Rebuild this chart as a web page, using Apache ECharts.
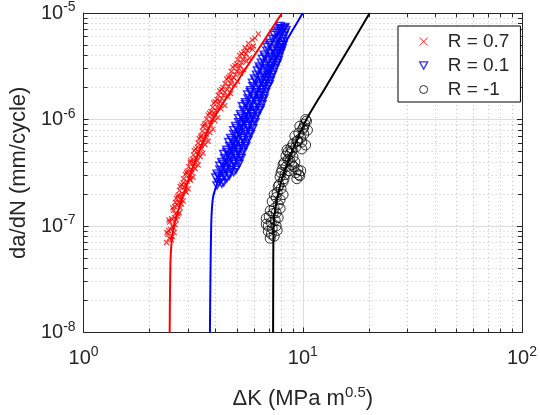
<!DOCTYPE html>
<html>
<head>
<meta charset="utf-8">
<script src="https://cdn.jsdelivr.net/npm/echarts@6/dist/echarts.min.js"></script>
<style>html,body{margin:0;padding:0;background:#fff}#c{width:540px;height:415px}</style>
</head>
<body>
<div id="c"></div>
<script>
// ---- data: [ΔK (MPa m^0.5), da/dN (mm/cycle)] ----
const seriesNames = ['R = 0.7', 'R = 0.1', 'R = -1'];

const pointsR07 = [
[2.39,7.0e-8],[2.52,7.4e-8],[2.46,7.67e-8],[2.42,8.4e-8],[2.54,8.0e-8],[2.40,8.7e-8],[2.59,8.7e-8],
[2.44,9.1e-8],[2.57,9.6e-8],[2.49,9.3e-8],[2.55,1.0e-7],[2.47,1.09e-7],[2.62,1.03e-7],[2.45,1.14e-7],[2.65,1.14e-7],
[2.52,1.17e-7],[2.68,1.24e-7],[2.60,1.20e-7],[2.62,1.3e-7],[2.70,1.3e-7],[2.57,1.40e-7],[2.74,1.33e-7],[2.55,1.48e-7],[2.76,1.48e-7],
[2.60,1.52e-7],[2.79,1.61e-7],[2.68,1.56e-7],[2.72,1.67e-7],[2.62,1.67e-7],[2.65,1.82e-7],[2.85,1.72e-7],[2.76,1.79e-7],
[2.80,1.90e-7],[2.68,1.90e-7],[2.71,1.96e-7],[2.94,2.07e-7],[2.82,2.01e-7],[2.90,2.16e-7],[2.74,2.16e-7],
[2.76,2.35e-7],[3.00,2.23e-7],[2.88,2.31e-7],[2.93,2.45e-7],[2.80,2.45e-7],
[2.85,2.54e-7],[3.07,2.69e-7],[2.97,2.61e-7],[3.05,2.78e-7],[2.86,2.78e-7],[2.91,3.05e-7],[3.16,2.88e-7],[3.03,2.98e-7],
[3.12,3.16e-7],[2.95,3.16e-7],[2.97,3.28e-7],[3.23,3.47e-7],[3.10,3.37e-7],[3.17,3.60e-7],[3.02,3.60e-7],
[3.07,3.95e-7],[3.33,3.74e-7],[3.20,3.86e-7],[3.30,4.09e-7],[3.08,4.09e-7],
[3.13,4.25e-7],[3.40,4.49e-7],[3.26,4.36e-7],[3.35,4.66e-7],[3.17,4.66e-7],[3.20,5.10e-7],[3.51,4.83e-7],[3.33,5.00e-7],
[3.45,5.30e-7],[3.25,5.30e-7],[3.30,5.50e-7],[3.58,5.82e-7],[3.44,5.65e-7],[3.50,6.02e-7],[3.33,6.02e-7],
[3.37,6.60e-7],[3.70,6.25e-7],[3.54,6.45e-7],[3.62,6.85e-7],[3.42,6.85e-7],
[3.44,7.10e-7],[3.77,7.52e-7],[3.62,7.30e-7],[3.66,7.79e-7],[3.48,7.79e-7],[3.51,8.55e-7],[3.89,8.08e-7],[3.70,8.35e-7],
[3.80,8.86e-7],[3.55,8.86e-7],[3.58,9.18e-7],[3.97,9.72e-7],[3.77,9.44e-7],[3.85,1.007e-6],[3.64,1.007e-6],
[3.70,1.10e-6],[4.10,1.04e-6],[3.89,1.08e-6],[3.95,1.146e-6],[3.75,1.146e-6],
[3.81,1.19e-6],[4.23,1.26e-6],[4.01,1.22e-6],[4.07,1.30e-6],[3.88,1.30e-6],[3.93,1.43e-6],[4.41,1.35e-6],[4.14,1.40e-6],
[4.20,1.48e-6],[3.98,1.48e-6],[4.06,1.54e-6],[4.55,1.63e-6],[4.27,1.58e-6],[4.35,1.69e-6],[4.12,1.69e-6],
[4.18,1.85e-6],[4.69,1.75e-6],[4.41,1.81e-6],[4.52,1.92e-6],[4.26,1.92e-6],
[4.32,2.00e-6],[4.89,2.11e-6],[4.59,2.05e-6],[4.68,2.18e-6],[4.42,2.18e-6],[4.50,2.40e-6],[5.04,2.27e-6],[4.74,2.35e-6],
[4.84,2.48e-6],[4.58,2.48e-6],[4.64,2.57e-6],[5.20,2.72e-6],[4.94,2.64e-6],[5.00,2.82e-6],[4.72,2.82e-6],
[4.79,3.10e-6],[5.37,2.93e-6],[5.10,3.03e-6],[5.18,3.21e-6],[4.90,3.21e-6],
[4.99,3.33e-6],[5.54,3.52e-6],[5.26,3.42e-6],[5.32,3.65e-6],[5.05,3.65e-6],[5.15,4.00e-6],[5.71,3.79e-6],[5.42,3.90e-6],
[5.50,4.15e-6],[5.25,4.15e-6],[5.37,4.31e-6],[5.89,4.56e-6],[5.60,4.43e-6],[5.70,4.72e-6],[5.45,4.72e-6],
[5.65,5.19e-6],[5.95,4.90e-6],[5.89,5.60e-6],[6.05,5.8e-6],[6.27,6.37e-6]
];

const pointsR01 = [
[4.06,2.40e-7],[4.27,2.50e-7],[4.12,2.56e-7],[4.36,2.56e-7],
[4.01,2.85e-7],[4.23,2.72e-7],[4.50,2.80e-7],[4.12,2.96e-7],[4.38,2.96e-7],[4.62,2.96e-7],
[4.06,3.10e-7],[4.32,3.24e-7],[4.59,3.08e-7],[4.84,3.20e-7],[4.19,3.37e-7],[4.45,3.37e-7],[4.71,3.37e-7],[4.95,3.37e-7],
[4.18,3.68e-7],[4.45,3.52e-7],[4.74,3.66e-7],[4.99,3.55e-7],[4.31,3.84e-7],[4.59,3.84e-7],[4.87,3.84e-7],[5.12,3.84e-7],
[4.27,4.00e-7],[4.55,4.18e-7],[4.84,4.02e-7],[5.10,4.15e-7],[4.40,4.36e-7],[4.69,4.36e-7],[4.97,4.36e-7],[5.24,4.36e-7],
[4.36,4.75e-7],[4.64,4.56e-7],[4.94,4.72e-7],[5.20,4.60e-7],[4.50,4.96e-7],[4.79,4.96e-7],[5.07,4.96e-7],[5.33,4.96e-7],
[4.50,5.20e-7],[4.79,5.42e-7],[5.10,5.22e-7],[5.37,5.38e-7],[4.64,5.65e-7],[4.94,5.65e-7],[5.24,5.65e-7],[5.50,5.65e-7],
[4.59,6.15e-7],[4.89,5.90e-7],[5.20,6.10e-7],[5.48,5.95e-7],[4.74,6.42e-7],[5.04,6.42e-7],[5.36,6.42e-7],[5.62,6.42e-7],
[4.69,6.72e-7],[4.99,7.00e-7],[5.31,6.75e-7],[5.65,6.95e-7],[4.84,7.30e-7],[5.15,7.30e-7],[5.48,7.30e-7],[5.78,7.30e-7],
[4.84,7.95e-7],[5.15,7.62e-7],[5.48,7.90e-7],[5.77,7.70e-7],[4.99,8.30e-7],[5.31,8.30e-7],[5.63,8.30e-7],[5.92,8.30e-7],
[4.94,8.68e-7],[5.26,9.05e-7],[5.60,8.75e-7],[5.89,8.98e-7],[5.10,9.44e-7],[5.42,9.44e-7],[5.74,9.44e-7],[6.05,9.44e-7],
[5.10,1.03e-6],[5.42,9.85e-7],[5.77,1.02e-6],[6.02,9.95e-7],[5.26,1.07e-6],[5.60,1.07e-6],[5.89,1.07e-6],[6.15,1.07e-6],
[5.20,1.12e-6],[5.54,1.17e-6],[5.89,1.13e-6],[6.21,1.16e-6],[5.36,1.22e-6],[5.71,1.22e-6],[6.05,1.22e-6],[6.36,1.22e-6],
[5.31,1.33e-6],[5.65,1.27e-6],[6.02,1.32e-6],[6.40,1.28e-6],[5.48,1.39e-6],[5.83,1.39e-6],[6.21,1.39e-6],[6.52,1.39e-6],
[5.48,1.45e-6],[5.83,1.51e-6],[6.21,1.46e-6],[6.54,1.50e-6],[5.63,1.58e-6],[6.00,1.58e-6],[6.36,1.58e-6],[6.65,1.58e-6],
[5.60,1.72e-6],[5.95,1.65e-6],[6.34,1.71e-6],[6.67,1.67e-6],[5.77,1.80e-6],[6.14,1.80e-6],[6.48,1.80e-6],[6.76,1.80e-6],
[5.77,1.88e-6],[6.14,1.96e-6],[6.54,1.90e-6],[6.81,1.95e-6],[5.92,2.05e-6],[6.30,2.05e-6],[6.66,2.05e-6],[6.95,2.05e-6],
[5.89,2.22e-6],[6.27,2.13e-6],[6.67,2.20e-6],[7.03,2.15e-6],[6.08,2.33e-6],[6.47,2.33e-6],[6.88,2.33e-6],[7.12,2.33e-6],
[6.02,2.43e-6],[6.40,2.53e-6],[6.81,2.45e-6],[7.18,2.51e-6],[6.15,2.64e-6],[6.55,2.64e-6],[6.95,2.64e-6],[7.27,2.64e-6],
[6.21,2.88e-6],[6.60,2.76e-6],[7.03,2.86e-6],[7.33,2.78e-6],[6.38,3.01e-6],[6.80,3.01e-6],[7.15,3.01e-6],[7.46,3.01e-6],
[6.34,3.15e-6],[6.74,3.28e-6],[7.18,3.17e-6],[7.56,3.25e-6],[6.47,3.42e-6],[6.88,3.42e-6],[7.32,3.42e-6],[7.66,3.42e-6],
[6.54,3.72e-6],[6.96,3.58e-6],[7.40,3.70e-6],[7.72,3.60e-6],[6.72,3.89e-6],[7.16,3.89e-6],[7.52,3.89e-6],[7.80,3.89e-6],
[6.67,4.07e-6],[7.10,4.24e-6],[7.56,4.10e-6],[7.88,4.20e-6],[6.85,4.43e-6],[7.30,4.43e-6],[7.70,4.43e-6],[7.98,4.43e-6],
[6.88,4.82e-6],[7.33,4.62e-6],[7.80,4.78e-6],[8.04,4.66e-6],[7.05,5.04e-6],[7.48,5.04e-6],[7.90,5.04e-6],[8.14,5.04e-6],
[7.10,5.26e-6],[7.56,5.48e-6],[7.96,5.30e-6],[8.21,5.44e-6],[7.30,5.73e-6],[7.70,5.73e-6],[8.10,5.73e-6],
[7.40,6.23e-6],[7.80,5.99e-6],[8.21,6.15e-6],[7.60,6.52e-6],[7.98,6.52e-6],[8.30,6.52e-6],
[7.72,6.81e-6],[8.04,7.09e-6],[8.38,6.90e-6],[7.85,7.2e-6],[8.20,7.2e-6],
[7.88,7.57e-6],[8.30,7.40e-6]
];

const pointsRm1 = [
[7.10,7.67e-8],[7.40,8.01e-8],[7.18,8.4e-8],[6.96,8.92e-8],[7.25,9.51e-8],[7.64,9.11e-8],[6.96,1.0e-7],[7.56,1.0e-7],
[6.81,1.04e-7],[7.18,1.08e-7],[7.48,1.13e-7],[6.81,1.18e-7],[7.03,1.23e-7],[7.32,1.31e-7],[7.72,1.20e-7],[7.56,1.33e-7],
[7.10,1.39e-7],[7.88,1.46e-7],[7.40,1.46e-7],[7.72,1.59e-7],[7.25,1.70e-7],[7.56,1.85e-7],[7.88,1.77e-7],[7.40,1.97e-7],
[8.13,1.97e-7],[7.64,2.06e-7],[7.96,2.24e-7],[7.72,2.34e-7],
[7.80,2.44e-7],[8.13,2.61e-7],[7.88,2.90e-7],[8.21,2.78e-7],[8.30,3.03e-7],[7.96,3.16e-7],[8.04,3.37e-7],[8.65,3.30e-7],
[8.38,3.59e-7],[8.13,3.75e-7],[8.21,3.92e-7],[8.56,4.18e-7],[8.74,4.09e-7],[8.38,4.55e-7],[8.74,4.75e-7],[8.56,4.96e-7],
[8.92,5.07e-7],[8.47,5.18e-7],[8.83,5.41e-7],
[9.02,4.46e-7],[9.20,4.00e-7],[9.11,3.59e-7],[9.49,3.37e-7],[9.69,2.96e-7],[9.59,3.03e-7],[9.30,3.16e-7],[8.92,3.75e-7],
[9.40,2.78e-7],[9.79,3.30e-7],
[9.02,5.89e-7],[9.30,5.53e-7],[9.40,6.28e-7],[9.49,6.28e-7],[9.90,6.15e-7],[9.20,6.99e-7],[9.59,7.46e-7],[9.79,6.70e-7],
[10.0,8.13e-7],[10.1,8.46e-7],[10.5,7.95e-7],[9.69,8.66e-7],[10.2,9.05e-7],[10.4,9.65e-7],[10.3,1.0e-6],
[10.1,7.30e-7],[10.3,5.77e-7],[9.90,5.29e-7]
];

const fitR07 = [[2.47,1e-8],[2.48,2.62e-8],[2.50,5.56e-8],[2.57,9.5e-8],[2.74,1.53e-7],[2.97,2.5e-7],
[3.23,4.09e-7],[3.54,6.42e-7],[3.89,1e-6],[5.20,2.53e-6],[6.47,5.04e-6],[8.04,1e-5]];
const fitR01 = [[3.77,1e-8],[3.79,3.25e-8],[3.82,1.0e-7],[3.85,1.46e-7],[3.91,1.93e-7],[4.10,2.61e-7],
[4.69,4.96e-7],[5.42,1.0e-6],[6.34,2.0e-6],[7.10,3.01e-6],[8.21,5.04e-6],[9.01,6.95e-6],[10.0,1e-5]];
const fitRm1 = [[7.32,1e-8],[7.33,3e-8],[7.34,6.89e-8],[7.40,1.18e-7],[7.64,1.81e-7],[8.04,2.78e-7],
[8.65,4.27e-7],[9.40,6.42e-7],[10.39,1e-6],[12.7,2e-6],[16.6,5.04e-6],[20.2,1e-5]];

const xRange = [1, 100];
const yRange = [1e-8, 1e-5];

// ---- styling ----
const FONT = 'Liberation Sans, Arial, Helvetica, sans-serif';
const TXT = '#262626';
const colors = ['#ff0000', '#0000ff', '#000000'];
const crossPath = 'path://M0,0L10,10M10,0L0,10';
const triDownPath = 'path://M0,0L10,0L5,9Z';

const supFmt = v => '{b|10}{s|' + Math.round(Math.log10(v)) + '}';
const richLbl = {
  b: {fontSize: 20, fontFamily: FONT, color: TXT},
  s: {fontSize: 14, fontFamily: FONT, color: TXT, padding: [0, 0, 11, 0]}
};

function logAxis(common, extra) {
  return Object.assign({
    type: 'log', logBase: 10, interval: 1,
    axisLine: {show: true, onZero: false, lineStyle: {color: TXT, width: 1}},
    axisTick: {show: true, inside: true, length: 5, lineStyle: {color: TXT}},
    minorTick: {show: true, splitNumber: 9, length: 4, lineStyle: {color: TXT}},
    splitLine: {show: false},
    minorSplitLine: {show: false},
    axisLabel: {show: false}
  }, common, extra);
}
const gridMajor = {show: true, lineStyle: {color: '#dcdcdc', width: 1}};
const gridMinor = {show: true, lineStyle: {color: '#c4c4c4', width: 1, type: [1, 3]}};

const chart = echarts.init(document.getElementById('c'), null, {renderer: 'canvas'});
chart.setOption({
  animation: false,
  backgroundColor: '#fff',
  textStyle: {fontFamily: FONT, color: TXT},
  grid: {left: 81, top: 13, width: 444, height: 322, containLabel: false},
  xAxis: [
    logAxis({min: xRange[0], max: xRange[1]}, {
      position: 'bottom',
      splitLine: gridMajor, minorSplitLine: gridMinor,
      axisLabel: {show: true, formatter: supFmt, rich: richLbl, margin: 13},
      name: '{b|ΔK (MPa m}{s|0.5}{b|)}',
      nameLocation: 'middle', nameGap: 53,
      nameTextStyle: {rich: {
        b: {fontSize: 22, fontFamily: FONT, color: TXT},
        s: {fontSize: 15, fontFamily: FONT, color: TXT, padding: [0, 0, 12, 0]}
      }}
    }),
    logAxis({min: xRange[0], max: xRange[1]}, {position: 'top'})
  ],
  yAxis: [
    logAxis({min: yRange[0], max: yRange[1]}, {
      position: 'left',
      splitLine: gridMajor, minorSplitLine: gridMinor,
      axisLabel: {show: true, formatter: supFmt, rich: richLbl, margin: 8},
      name: 'da/dN (mm/cycle)',
      nameLocation: 'middle', nameGap: 50,
      nameTextStyle: {fontSize: 22, fontFamily: FONT, color: TXT}
    }),
    logAxis({min: yRange[0], max: yRange[1]}, {position: 'right'})
  ],
  legend: {
    orient: 'vertical', left: 398, top: 26,
    backgroundColor: '#fff', borderColor: '#000', borderWidth: 1,
    padding: [6, 11, 3, 21], itemGap: 5, itemWidth: 8, itemHeight: 8,
    textStyle: {fontSize: 19, fontFamily: FONT, color: TXT, padding: [0, 0, 0, 15]},
    data: [
      {name: seriesNames[0], icon: crossPath,
       itemStyle: {color: 'transparent', borderColor: colors[0], borderWidth: 1}},
      {name: seriesNames[1], icon: triDownPath,
       itemStyle: {color: 'transparent', borderColor: colors[1], borderWidth: 1.3}},
      {name: seriesNames[2], icon: 'circle',
       itemStyle: {color: 'transparent', borderColor: colors[2], borderWidth: 1}}
    ]
  },
  series: [
    {name: seriesNames[0], type: 'scatter', data: pointsR07, symbol: crossPath, symbolSize: 5,
     itemStyle: {color: 'transparent', borderColor: colors[0], borderWidth: 1.2}, z: 3},
    {name: seriesNames[1], type: 'scatter', data: pointsR01, symbol: triDownPath, symbolSize: [8, 7],
     itemStyle: {color: 'transparent', borderColor: colors[1], borderWidth: 1.5}, z: 3},
    {name: seriesNames[2], type: 'scatter', data: pointsRm1, symbol: 'circle', symbolSize: 10,
     itemStyle: {color: 'transparent', borderColor: colors[2], borderWidth: 1}, z: 3},
    {name: seriesNames[0] + ' fit', type: 'line', data: fitR07, smooth: 0.35, showSymbol: false,
     lineStyle: {color: colors[0], width: 2}, z: 4},
    {name: seriesNames[1] + ' fit', type: 'line', data: fitR01, smooth: 0.35, showSymbol: false,
     lineStyle: {color: colors[1], width: 2}, z: 4},
    {name: seriesNames[2] + ' fit', type: 'line', data: fitRm1, smooth: 0.35, showSymbol: false,
     lineStyle: {color: colors[2], width: 2}, z: 4}
  ]
});
</script>
</body>
</html>
